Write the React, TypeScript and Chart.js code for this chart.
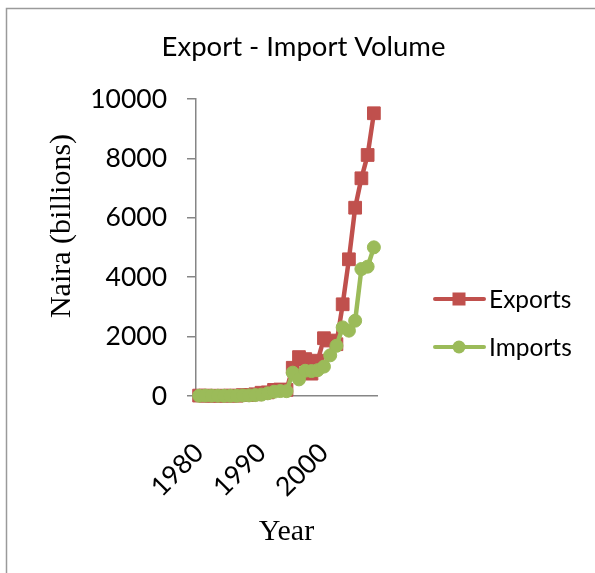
import React, { useEffect, useRef } from 'react';
import { Chart, registerables } from 'chart.js';

Chart.register(...registerables);

const chartTitle = 'Export - Import Volume';
const yAxisTitle = 'Naira (billions)';
const xAxisTitle = 'Year';

const years = [
  '1980', '1981', '1982', '1983', '1984', '1985', '1986', '1987', '1988', '1989',
  '1990', '1991', '1992', '1993', '1994', '1995', '1996', '1997', '1998', '1999',
  '2000', '2001', '2002', '2003', '2004', '2005', '2006', '2007', '2008',
];

const exportsValues = [
  14, 11, 8, 7.5, 9, 12, 9, 30, 31, 58,
  110, 122, 206, 219, 206, 951, 1310, 1242, 752, 1189,
  1946, 1868, 1744, 3088, 4603, 6340, 7330, 8115, 9520,
];

const importsValues = [
  9, 13, 11, 9, 7, 7, 6, 18, 21, 31,
  46, 90, 143, 166, 163, 785, 560, 850, 840, 870,
  990, 1370, 1690, 2310, 2200, 2535, 4275, 4355, 5005,
];

const shownYearLabels = ['1980', '1990', '2000'];
const yTickValues = [0, 2000, 4000, 6000, 8000, 10000];

const RED = '#C0504D';
const GREEN = '#9BBB59';
const AXIS = '#868686';
const SANS = 'Lato, Calibri, sans-serif';
const SERIF = "'Liberation Serif', 'Times New Roman', serif";

const framePlugin = {
  id: 'frame',
  beforeDraw(chart: any) {
    const { ctx, width, height } = chart;
    ctx.save();
    ctx.fillStyle = '#ffffff';
    ctx.fillRect(0, 0, width, height);
    ctx.strokeStyle = '#9a9a9a';
    ctx.lineWidth = 1.5;
    ctx.beginPath();
    ctx.moveTo(6.5, height);
    ctx.lineTo(6.5, 8.5);
    ctx.lineTo(width, 8.5);
    ctx.stroke();
    ctx.restore();
  },
};

// Value-axis title, placed where the reference puts it (a little above the plot's middle).
const yTitlePlugin = {
  id: 'yTitle',
  afterDraw(chart: any) {
    const { ctx } = chart;
    ctx.save();
    ctx.translate(62, 226);
    ctx.rotate(-Math.PI / 2);
    ctx.fillStyle = '#000000';
    ctx.font = `30px ${SERIF}`;
    ctx.textAlign = 'center';
    ctx.textBaseline = 'middle';
    ctx.fillText(yAxisTitle, 0, 0);
    ctx.restore();
  },
};

const legendPlugin = {
  id: 'sideLegend',
  afterDraw(chart: any) {
    const { ctx } = chart;
    const items = [
      { ds: chart.data.datasets[0], y: 299 },
      { ds: chart.data.datasets[1], y: 347 },
    ];
    ctx.save();
    for (const it of items) {
      const color = it.ds.borderColor;
      ctx.strokeStyle = color;
      ctx.lineWidth = 4;
      ctx.lineCap = 'round';
      ctx.beginPath();
      ctx.moveTo(435, it.y);
      ctx.lineTo(484, it.y);
      ctx.stroke();
      ctx.fillStyle = color;
      if (it.ds.pointStyle === 'rect') {
        ctx.fillRect(452.5, it.y - 6.5, 13, 13);
      } else {
        ctx.beginPath();
        ctx.arc(459, it.y, 6.5, 0, Math.PI * 2);
        ctx.fill();
      }
      ctx.fillStyle = '#000000';
      ctx.font = `24.5px ${SANS}`;
      ctx.textBaseline = 'middle';
      ctx.textAlign = 'left';
      ctx.fillText(it.ds.label, 489, it.y + 1);
    }
    ctx.restore();
  },
};

export default function App() {
  const canvasRef = useRef<HTMLCanvasElement | null>(null);

  useEffect(() => {
    const canvas = canvasRef.current;
    if (!canvas) return;
    const chart = new Chart(canvas, {
      type: 'line',
      data: {
        labels: years,
        datasets: [
          {
            label: 'Exports',
            data: exportsValues,
            borderColor: RED,
            backgroundColor: RED,
            borderWidth: 4.5,
            pointStyle: 'rect',
            pointRadius: 9,
            pointBorderWidth: 1,
            pointBackgroundColor: RED,
            pointBorderColor: RED,
            tension: 0,
            clip: false,
            order: 1,
            yAxisID: 'y',
          },
          {
            label: 'Imports',
            data: importsValues,
            borderColor: GREEN,
            backgroundColor: GREEN,
            borderWidth: 4.5,
            pointStyle: 'circle',
            pointRadius: 6.5,
            pointBorderWidth: 1,
            pointBackgroundColor: GREEN,
            pointBorderColor: GREEN,
            tension: 0,
            clip: false,
            order: 0,
            yAxisID: 'y',
          },
        ],
      },
      options: {
        animation: false,
        responsive: true,
        maintainAspectRatio: false,
        events: [],
        layout: { padding: { left: 12, right: 0, top: 0, bottom: 0 } },
        plugins: {
          legend: { display: false },
          tooltip: { enabled: false },
          title: {
            display: true,
            text: chartTitle,
            color: '#000000',
            font: { family: SANS, size: 27.5, weight: 'normal', lineHeight: 1.2 },
            padding: { top: 31, bottom: 35 },
          },
        },
        scales: {
          x: {
            type: 'category',
            offset: true,
            afterFit(scale: any) {
              scale.height = 177;
            },
            grid: {
              display: true,
              drawOnChartArea: false,
              color: 'rgba(0,0,0,0)',
              tickLength: 8,
              offset: true,
            },
            border: { display: true, color: AXIS, width: 1.5 },
            ticks: {
              autoSkip: false,
              maxRotation: 45,
              minRotation: 45,
              padding: 33,
              color: '#000000',
              font: { family: SANS, size: 26.5 },
              callback(this: any, value: any) {
                const lab = this.getLabelForValue(value);
                return shownYearLabels.includes(lab) ? lab : null;
              },
            },
            title: {
              display: true,
              text: xAxisTitle,
              color: '#000000',
              font: { family: SERIF, size: 30 },
              padding: { top: 0, bottom: 23 },
            },
          },
          y: {
            type: 'linear',
            position: 'left',
            min: 0,
            max: 10000,
            afterFit(scale: any) {
              scale.width = 184;
            },
            afterBuildTicks(scale: any) {
              scale.ticks = yTickValues.map((v) => ({ value: v }));
            },
            grid: {
              display: true,
              drawOnChartArea: false,
              color: AXIS,
              lineWidth: 1.5,
              tickLength: 9,
            },
            border: { display: true, color: AXIS, width: 1.5 },
            ticks: {
              padding: 20,
              color: '#000000',
              font: { family: SANS, size: 26.5 },
              callback: (v: any) => String(v),
            },
            title: { display: false },
          },
          spacer: {
            type: 'linear',
            position: 'right',
            display: true,
            afterFit(scale: any) {
              scale.width = 218;
            },
            grid: { display: false },
            border: { display: false },
            ticks: { display: false },
          },
        },
      },
      plugins: [framePlugin, yTitlePlugin, legendPlugin],
    });
    return () => chart.destroy();
  }, []);

  return (
    <div style={{ position: 'absolute', left: 0, top: 0, width: 595, height: 573 }}>
      <canvas ref={canvasRef} />
    </div>
  );
}
